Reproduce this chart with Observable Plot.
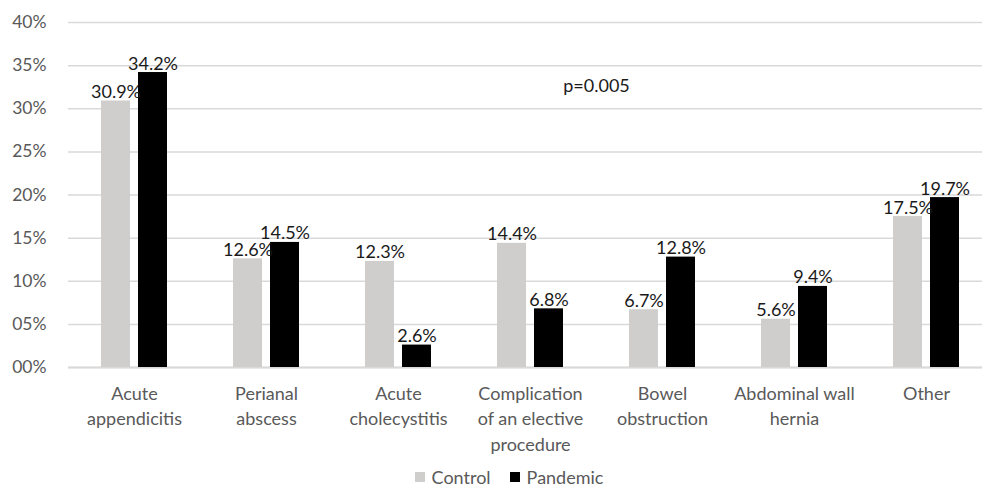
<!DOCTYPE html>
<html>
<head>
<meta charset="utf-8">
<script src="https://cdn.jsdelivr.net/npm/d3@7"></script>
<script src="https://cdn.jsdelivr.net/npm/@observablehq/plot@0.6"></script>
<style>
  html, body { margin: 0; padding: 0; background: #fff; overflow: hidden; }
  body { width: 982px; height: 487px; font-family: Lato, "Open Sans", sans-serif; }
  #legend { display: flex; justify-content: center; align-items: center; gap: 19px; font-size: 18px; line-height: 18px; height: 18px; color: #595959; margin-top: 8px; padding-left: 36px; }
  #legend span.sw { display: inline-block; width: 10px; height: 10px; margin-right: 7px; }
  #legend .item { display: flex; align-items: center; }
</style>
</head>
<body>
<div id="chart"></div>
<div id="legend"></div>
<script>
const categories = [
  "Acute\nappendicitis",
  "Perianal\nabscess",
  "Acute\ncholecystitis",
  "Complication\nof an elective\nprocedure",
  "Bowel\nobstruction",
  "Abdominal wall\nhernia",
  "Other"
];
const series = ["Control", "Pandemic"];
const control = [30.9, 12.6, 12.3, 14.4, 6.7, 5.6, 17.5];
const pandemic = [34.2, 14.5, 2.6, 6.8, 12.8, 9.4, 19.7];
const colors = ["#d0cecd", "#000000"];
const yTicks = [0, 5, 10, 15, 20, 25, 30, 35, 40];
const annotation = {text: "p=0.005", category: categories[3], value: 32.6};

const data = [];
categories.forEach((c, i) => {
  data.push({category: c, series: "Control", value: control[i]});
  data.push({category: c, series: "Pandemic", value: pandemic[i]});
});

const fmtTick = d => String(d).padStart(2, "0") + "%";

const chart = Plot.plot({
  width: 982,
  height: 460,
  marginTop: 22,
  marginBottom: 93,
  marginLeft: 65,
  marginRight: 0,
  style: {fontFamily: "Lato, 'Open Sans', sans-serif", background: "#fff"},
  fx: {domain: categories, range: [65, 995], padding: 0, label: null},
  x: {domain: series, paddingInner: 0.224, paddingOuter: 0.86, axis: null},
  y: {domain: [0, 40], label: null},
  color: {domain: series, range: colors},
  marks: [
    Plot.gridY(yTicks, {stroke: "#d9d9d9", strokeOpacity: 1, strokeWidth: 1.5}),
    Plot.ruleY([0], {stroke: "#d9d9d9", strokeWidth: 2}),
    Plot.axisY(yTicks, {tickSize: 0, tickPadding: 22, tickFormat: fmtTick, fontSize: 17.5, fill: "#595959", label: null}),
    Plot.axisFx({anchor: "bottom", tickSize: 0, tickPadding: 14, fontSize: 18, lineHeight: 1.42, fill: "#595959", label: null}),
    Plot.barY(data, {fx: "category", x: "series", y: "value", fill: "series"}),
    Plot.text(data, {fx: "category", x: "series", y: "value", text: d => d.value.toFixed(1) + "%", lineAnchor: "bottom", dy: -3, fontSize: 18, fill: "#1a1a1a"}),
    Plot.text([annotation], {fx: "category", y: "value", text: "text", frameAnchor: "right", textAnchor: "middle", fontSize: 18, fill: "#1a1a1a"})
  ]
});
document.getElementById("chart").appendChild(chart);

const legend = document.getElementById("legend");
series.forEach((s, i) => {
  const item = document.createElement("div");
  item.className = "item";
  const sw = document.createElement("span");
  sw.className = "sw";
  sw.style.background = colors[i];
  item.appendChild(sw);
  item.appendChild(document.createTextNode(s));
  legend.appendChild(item);
});
</script>
</body>
</html>
